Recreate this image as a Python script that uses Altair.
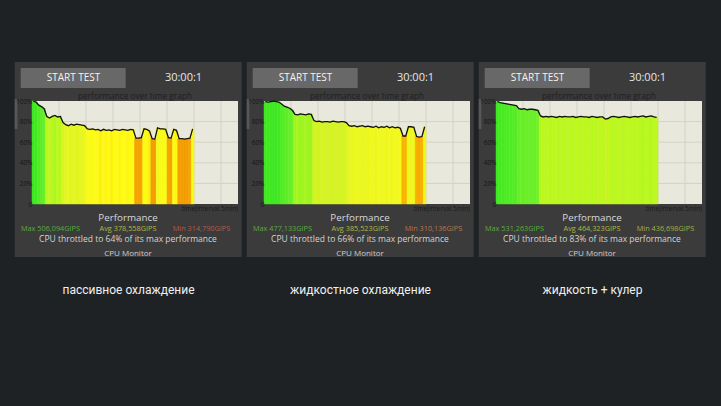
import altair as alt
import pandas as pd

# ---------------- data (performance %, one sample every 30 s) ----------------
times = [i * 0.5 for i in range(60)]

perf_passive = [100, 99, 96, 94.5, 92.5, 85, 83.5, 85, 86, 84.5,
                85, 79, 77, 76, 77.5, 76.5, 77.5, 77, 76.5, 76,
                73, 72.5, 73, 72, 72.5, 71, 72.5, 71.5, 72, 71,
                72.5, 72, 71.5, 72.5, 72, 71.5, 72.5, 72, 64, 64,
                64.5, 73, 72.5, 71, 63.5, 63, 74, 73, 73, 72.5,
                64.5, 64, 72.5, 71.5, 63.5, 63.5, 63, 63.5, 64, 73]

perf_liquid = [99.5, 99, 99.5, 100, 99.5, 99, 97, 95, 94, 93,
               91, 87, 86.5, 87.5, 87, 86.5, 87.5, 87, 81, 80,
               80.5, 79.5, 80, 80, 79.5, 80.5, 80, 79.5, 80, 80,
               79, 76, 75.5, 76, 75, 75.5, 76, 75, 75.5, 75,
               74.5, 75.5, 74, 75, 74.5, 75.5, 74, 75, 74, 74.5,
               73.5, 66, 66, 75, 75, 74.5, 65.5, 65, 65.5, 75]

perf_cooler = [99.5, 98.5, 98, 97.5, 97, 96.5, 96, 95.5, 92.5, 92,
               92.5, 91.5, 92, 92, 91.5, 91, 85.5, 84.5, 85, 84.5,
               85, 84.5, 84, 85, 84.5, 85, 84.5, 84.5, 85, 84,
               84.5, 85, 84.5, 84.5, 84, 85, 84.5, 84, 84.5, 84.5,
               82.5, 83, 84.5, 85, 84.5, 84, 84.5, 85, 84.5, 84,
               84.5, 85, 84.5, 85, 85.5, 84.5, 85, 85.5, 84.5, 84]

grid_pct = [20, 40, 60, 80]
grid_min = [5, 10, 15, 20, 25, 30, 35]
tick_pct = [0, 20, 40, 60, 80, 100]

max_labels = ["Max 506,094GIPS", "Max 477,133GIPS", "Max 531,263GIPS"]
avg_labels = ["Avg 378,558GIPS", "Avg 385,523GIPS", "Avg 464,323GIPS"]
min_labels = ["Min 314,790GIPS", "Min 310,136GIPS", "Min 436,698GIPS"]
throttle_labels = ["CPU throttled to 64% of its max performance",
                   "CPU throttled to 66% of its max performance",
                   "CPU throttled to 83% of its max performance"]
captions = ["пассивное охлаждение", "жидкостное охлаждение", "жидкость + кулер"]
min_colors = ["#b35a4c", "#b8774e", "#a4ae4a"]

# ---------------- styling ----------------
W, H = 206, 103
X_MAX = W / 5.4
BG = "#1f2225"
PANEL = "#3b3b3b"
BUTTON = "#686868"
PLOT_BG = "#e8e8dc"
GRID = "#d2d2c6"
FONT = "Open Sans"

col_domain = [62, 65, 68, 72, 76, 80, 85, 90, 95, 100]
col_range = ["#ef9400", "#f8aa00", "#fdc800", "#fffc14", "#e9f620",
             "#d4f422", "#b9f81e", "#74f02a", "#58ee26", "#3ce820"]

one = pd.DataFrame({"k": [0]})
xs = alt.Scale(domain=[0, X_MAX], nice=False, zero=False)
ys = alt.Scale(domain=[0, 100], nice=False)
yaxis = alt.Axis(values=tick_pct, labelExpr="datum.value == 0 ? '0' : datum.value + '%'",
                 labelFontSize=6.5, labelColor="#161616", labelFont=FONT, domain=False,
                 ticks=False, grid=False, labelPadding=0, title=None, zindex=1)


def rect(x0, x1, y0, y1, color):
    return alt.Chart(one).mark_rect(color=color).encode(
        x=alt.value(x0), x2=alt.value(x1), y=alt.value(y0), y2=alt.value(y1))


def txt(s, x, y, size, color, align="center", font=FONT):
    return alt.Chart(one).mark_text(text=s, fontSize=size, color=color, align=align,
                                    baseline="middle", font=font).encode(
        x=alt.value(x), y=alt.value(y))


def panel(i, values, with_bg=False):
    df = pd.DataFrame({"t": times, "v": values})
    layers = []
    if with_bg:
        layers.append(rect(-32, 721 - 32, -101, 406 - 101, BG))
    layers += [
        rect(-17.3, 209.7, -39, 156, PANEL),
        rect(-17.3, -14.6, -2, 28, "#575757"),
        rect(-11.3, 93.7, -33, -13, BUTTON),
        txt("START TEST", 41.5, -23, 10, "#f2f2f2"),
        txt("30:00:1", 151.5, -23, 11, "#e6e6e6"),
        txt("performance over time graph", 103, -4.5, 8.3, "#1e1e1e"),
        rect(0, W, 0, H, PLOT_BG),
    ]
    gy = alt.Chart(pd.DataFrame({"g": grid_pct})).mark_rule(color=GRID, strokeWidth=1).encode(
        y=alt.Y("g:Q", scale=ys, axis=yaxis), x=alt.value(0), x2=alt.value(W))
    gx = alt.Chart(pd.DataFrame({"g": grid_min})).mark_rule(color=GRID, strokeWidth=1).encode(
        x=alt.X("g:Q", scale=xs, axis=None), y=alt.value(0), y2=alt.value(H))
    bars = alt.Chart(df).transform_calculate(t2="datum.t + 0.5").mark_rect(strokeWidth=0.5).encode(
        x=alt.X("t:Q", scale=xs, axis=None),
        x2="t2:Q",
        y=alt.Y("v:Q", scale=ys, axis=yaxis),
        y2=alt.datum(0),
        color=alt.Color("v:Q", scale=alt.Scale(domain=col_domain, range=col_range), legend=None),
        stroke=alt.Stroke("v:Q", scale=alt.Scale(domain=col_domain, range=col_range), legend=None),
    )
    line = alt.Chart(df).transform_calculate(tm="datum.t + 0.25").mark_line(
        color="#111111", strokeWidth=1.3).encode(
        x=alt.X("tm:Q", scale=xs, axis=None),
        y=alt.Y("v:Q", scale=ys, axis=yaxis),
    )
    layers += [gy, gx, bars, line,
               txt("time(interval 5min)", W, 107.5, 6.4, "#1a1a1a", align="right"),
               txt("Performance", 96, 116.5, 9.8, "#dadada"),
               txt(max_labels[i], 18.5, 127.5, 7.3, "#5fa843"),
               txt(avg_labels[i], 96, 127.5, 7.3, "#b6b64a"),
               txt(min_labels[i], 169.5, 127.5, 7.3, min_colors[i]),
               txt(throttle_labels[i], 96, 137.5, 8.5, "#d4d4d4"),
               txt("CPU Monitor", 96, 152.5, 8, "#cdcdcd"),
               txt(captions[i], 96.5, 188.5, 12, "#f0f0f0", font="Roboto")]
    return alt.layer(*layers).properties(width=W, height=H)


chart = alt.hconcat(panel(0, perf_passive, with_bg=True),
                    panel(1, perf_liquid),
                    panel(2, perf_cooler),
                    spacing=26, bounds="flush").properties(
    padding=0, background=BG
).configure_view(stroke=None)

chart.save("out.html", embed_options={"renderer": "svg", "actions": False})
